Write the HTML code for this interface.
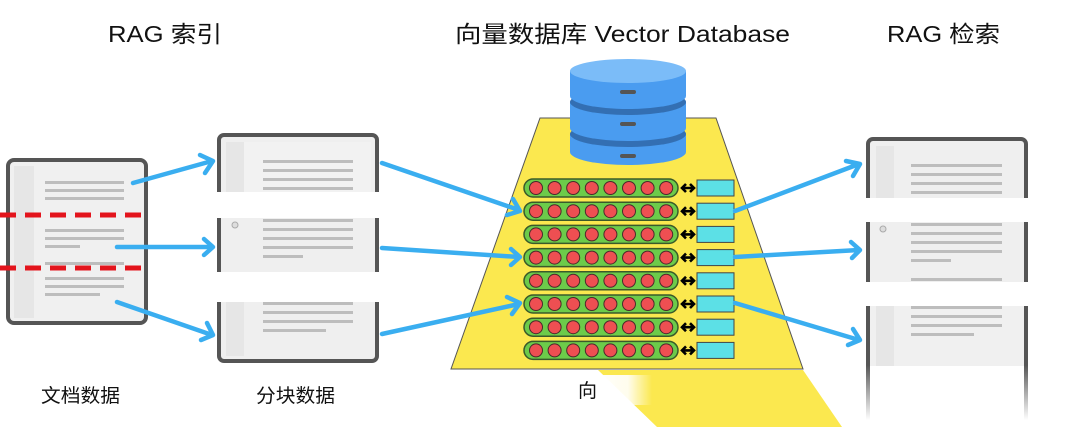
<!DOCTYPE html>
<html><head><meta charset="utf-8"><style>
html,body{margin:0;padding:0;background:#fff;}
svg{display:block;}
text{font-family:"Liberation Sans","Noto Sans CJK SC",sans-serif;fill:#111;}
</style></head><body>
<svg width="1080" height="427" viewBox="0 0 1080 427" xmlns="http://www.w3.org/2000/svg">
<defs>
<linearGradient id="fade" x1="0" y1="0" x2="0" y2="1"><stop offset="0" stop-color="#555"/><stop offset="1" stop-color="#fff"/></linearGradient>
<linearGradient id="wfade" x1="0" y1="0" x2="1" y2="0"><stop offset="0" stop-color="#fff" stop-opacity="1"/><stop offset="0.6" stop-color="#fff" stop-opacity="0.9"/><stop offset="1" stop-color="#fff" stop-opacity="0"/></linearGradient>
</defs>

<text x="108" y="42" font-size="23" textLength="114" lengthAdjust="spacingAndGlyphs">RAG 索引</text>
<text x="455" y="42" font-size="23" textLength="335" lengthAdjust="spacingAndGlyphs">向量数据库 Vector Database</text>
<text x="887" y="42" font-size="23" textLength="113" lengthAdjust="spacingAndGlyphs">RAG 检索</text>

<rect x="8" y="160" width="138" height="163" rx="6" fill="#f0f0f0" stroke="#555" stroke-width="4"/>
<rect x="14" y="166" width="20" height="152" fill="#e6e6e6"/>
<g fill="#bdbdbd">
<rect x="45" y="181" width="79" height="3"/><rect x="45" y="189" width="79" height="3"/><rect x="45" y="197" width="79" height="3"/>
<rect x="45" y="229" width="79" height="3"/><rect x="45" y="237" width="79" height="3"/><rect x="45" y="245" width="35" height="3"/>
<rect x="45" y="262" width="79" height="3"/><rect x="45" y="277" width="79" height="3"/><rect x="45" y="285" width="79" height="3"/><rect x="45" y="293" width="55" height="3"/>
</g>
<line x1="0" y1="215" x2="146" y2="215" stroke="#e3141c" stroke-width="5" stroke-dasharray="16,9"/>
<line x1="0" y1="268" x2="146" y2="268" stroke="#e3141c" stroke-width="5" stroke-dasharray="16,9"/>

<g>
<path d="M219 192 V140 a5 5 0 0 1 5 -5 H372 a5 5 0 0 1 5 5 V192" fill="#efefef" stroke="#555" stroke-width="4"/>
<rect x="226" y="142" width="145" height="50" fill="#f2f2f2"/>
<rect x="226" y="142" width="18" height="50" fill="#e6e6e6"/>
<g fill="#bdbdbd"><rect x="263" y="160" width="90" height="3"/><rect x="263" y="169" width="90" height="3"/><rect x="263" y="178" width="90" height="3"/><rect x="263" y="187" width="90" height="3"/></g>

<rect x="221" y="218" width="156" height="54" fill="#efefef"/>
<line x1="219" y1="218" x2="219" y2="272" stroke="#555" stroke-width="4"/><line x1="377" y1="218" x2="377" y2="272" stroke="#555" stroke-width="4"/>
<circle cx="235" cy="225" r="3" fill="#ddd" stroke="#aaa"/>
<g fill="#bdbdbd"><rect x="263" y="219" width="90" height="3"/><rect x="263" y="228" width="90" height="3"/><rect x="263" y="237" width="90" height="3"/><rect x="263" y="246" width="90" height="3"/><rect x="263" y="255" width="40" height="3"/></g>

<path d="M219 302 V356 a5 5 0 0 0 5 5 H372 a5 5 0 0 0 5 -5 V302" fill="#efefef" stroke="#555" stroke-width="4"/>
<rect x="226" y="302" width="18" height="54" fill="#e6e6e6"/>
<g fill="#bdbdbd"><rect x="263" y="302" width="90" height="3"/><rect x="263" y="311" width="90" height="3"/><rect x="263" y="320" width="90" height="3"/><rect x="263" y="329" width="63" height="3"/></g>
</g>

<g>
<path d="M868 198 V144 a5 5 0 0 1 5 -5 H1021 a5 5 0 0 1 5 5 V198" fill="#efefef" stroke="#555" stroke-width="4"/>
<rect x="876" y="146" width="18" height="52" fill="#e6e6e6"/>
<g fill="#bdbdbd"><rect x="911" y="164" width="91" height="3"/><rect x="911" y="173" width="91" height="3"/><rect x="911" y="182" width="91" height="3"/><rect x="911" y="191" width="91" height="3"/></g>

<rect x="870" y="222" width="156" height="60" fill="#efefef"/>
<line x1="868" y1="222" x2="868" y2="282" stroke="#555" stroke-width="4"/><line x1="1026" y1="222" x2="1026" y2="282" stroke="#555" stroke-width="4"/>
<circle cx="883" cy="229" r="3" fill="#ddd" stroke="#aaa"/>
<g fill="#bdbdbd"><rect x="911" y="223" width="91" height="3"/><rect x="911" y="232" width="91" height="3"/><rect x="911" y="241" width="91" height="3"/><rect x="911" y="250" width="91" height="3"/><rect x="911" y="259" width="40" height="3"/><rect x="911" y="278" width="91" height="3"/></g>

<rect x="870" y="306" width="156" height="60" fill="#f0f0f0"/>
<rect x="876" y="306" width="18" height="60" fill="#e6e6e6"/>
<line x1="868" y1="306" x2="868" y2="365" stroke="#555" stroke-width="4"/><line x1="1026" y1="306" x2="1026" y2="365" stroke="#555" stroke-width="4"/>
<rect x="866" y="365" width="4" height="55" fill="url(#fade)"/><rect x="1024" y="365" width="4" height="55" fill="url(#fade)"/>
<g fill="#bdbdbd"><rect x="911" y="306" width="91" height="3"/><rect x="911" y="315" width="91" height="3"/><rect x="911" y="324" width="91" height="3"/><rect x="911" y="333" width="63" height="3"/></g>
</g>

<polygon points="540,118 716,118 803,369 451,369" fill="#fbe84f" stroke="#555" stroke-width="1"/>
<polygon points="598,370 803,370 842,427 657,427" fill="#fbe84f"/>
<rect x="592" y="375" width="60" height="30" fill="url(#wfade)"/>
<text x="578" y="397" font-size="19">向</text>

<g>
<path d="M570 134 V152 a58 13 0 0 0 116 0 V134 Z" fill="#4a9cf0"/>
<ellipse cx="628" cy="134" rx="58" ry="13" fill="#336fb3"/>
<path d="M570 138 a58 13 0 0 0 116 0 V142 a58 13 0 0 1 -116 0 Z" fill="#4a9cf0"/>
<path d="M570 102 V128 a58 13 0 0 0 116 0 V102 Z" fill="#4a9cf0"/>
<ellipse cx="628" cy="102" rx="58" ry="13" fill="#336fb3"/>
<path d="M570 106 a58 13 0 0 0 116 0 V110 a58 13 0 0 1 -116 0 Z" fill="#4a9cf0"/>
<path d="M570 71 V96 a58 13 0 0 0 116 0 V71 Z" fill="#4a9cf0"/>
<ellipse cx="628" cy="71" rx="58" ry="12" fill="#7bbcf8"/>
<g fill="#555"><rect x="620" y="90" width="16" height="4" rx="2"/><rect x="620" y="122" width="16" height="4" rx="2"/><rect x="620" y="154" width="16" height="4" rx="2"/></g>
</g>

<g id="rows">
<g transform="translate(0,188)"><rect x="524" y="-9" width="154" height="18" rx="9" fill="#6ccb4a" stroke="#3a5a2a" stroke-width="1.5"/><g fill="#ee4f52" stroke="#4a2a2a" stroke-width="1"><circle cx="536" cy="0" r="6.5"/><circle cx="554.6" cy="0" r="6.5"/><circle cx="573.2" cy="0" r="6.5"/><circle cx="591.8" cy="0" r="6.5"/><circle cx="610.4" cy="0" r="6.5"/><circle cx="629" cy="0" r="6.5"/><circle cx="647.6" cy="0" r="6.5"/><circle cx="666.2" cy="0" r="6.5"/></g><path d="M682 0 H694 M686 -4 L682 0 L686 4 M690 -4 L694 0 L690 4" stroke="#000" stroke-width="2.6" fill="none"/><rect x="697" y="-8" width="37" height="16" fill="#5ce0e6" stroke="#444"/></g>
</g>
<use href="#rows" y="23.2"/><use href="#rows" y="46.4"/><use href="#rows" y="69.6"/><use href="#rows" y="92.8"/><use href="#rows" y="116"/><use href="#rows" y="139.2"/><use href="#rows" y="162.4"/>

<g stroke="#3aaef0" stroke-width="4.5" fill="none" stroke-linecap="round" stroke-linejoin="round">
<line x1="133" y1="183" x2="212" y2="161"/><path d="M200 155 L213 161 L205 173"/>
<line x1="117" y1="247" x2="212" y2="247"/><path d="M204 239 L213 247 L204 255"/>
<line x1="117" y1="302" x2="212" y2="335"/><path d="M207 323 L213 335 L201 340"/>
<line x1="382" y1="163" x2="519" y2="210"/><path d="M513 199 L520 211 L507 215"/>
<line x1="382" y1="248" x2="519" y2="257"/><path d="M511 249 L520 257 L511 265"/>
<line x1="382" y1="334" x2="519" y2="304"/><path d="M507 297 L520 303 L512 314"/>
<line x1="735" y1="211" x2="859" y2="164"/><path d="M846 161 L860 164 L853 176"/>
<line x1="735" y1="257" x2="859" y2="250"/><path d="M851 242 L860 250 L852 258"/>
<line x1="735" y1="303" x2="859" y2="340"/><path d="M853 329 L860 340 L848 345"/>
</g>

<text x="41" y="402" font-size="19" textLength="79" lengthAdjust="spacingAndGlyphs">文档数据</text>
<text x="256" y="402" font-size="19" textLength="79" lengthAdjust="spacingAndGlyphs">分块数据</text>
</svg>
</body></html>
